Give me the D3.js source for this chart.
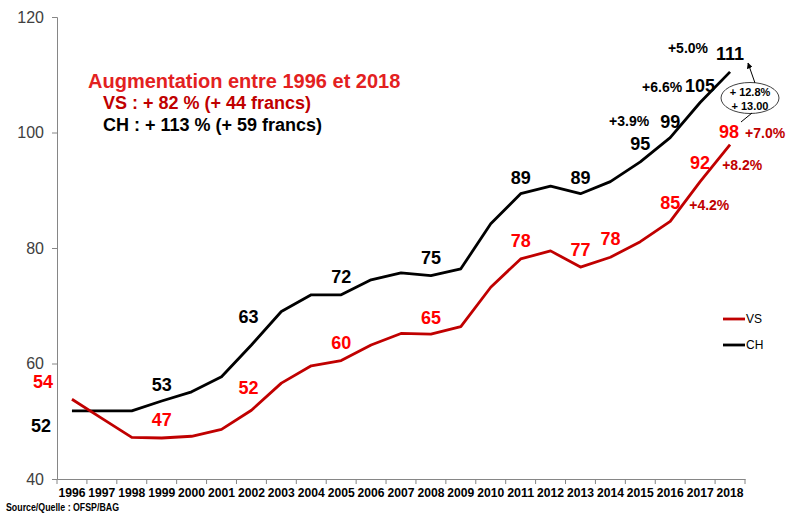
<!DOCTYPE html>
<html><head><meta charset="utf-8">
<script src="https://cdn.jsdelivr.net/npm/d3@7"></script>
<style>
html,body{margin:0;padding:0;background:#fff;}
svg{display:block;font-family:"Liberation Sans",Arial,sans-serif;}
</style></head>
<body><svg id="c" width="791" height="515"></svg>
<script>
const years = ["1996","1997","1998","1999","2000","2001","2002","2003","2004","2005","2006","2007","2008","2009","2010","2011","2012","2013","2014","2015","2016","2017","2018"];
const vsValues = [53.8,50.5,47.2,47.1,47.4,48.6,51.9,56.6,59.6,60.5,63.2,65.2,65.1,66.4,73.2,78.1,79.5,76.7,78.4,81.1,84.6,91.5,97.9];
const chValues = [51.8,51.8,51.8,53.5,55.1,57.7,63.2,69.0,71.9,71.9,74.5,75.7,75.2,76.4,84.2,89.4,90.7,89.4,91.5,94.9,99.1,105.2,110.5];
const yTicks = [40,60,80,100,120];
const vsLabelYears = ["1996","1999","2002","2005","2008","2011","2013","2014","2016","2017","2018"];
const vsLabelTexts = ["54","47","52","60","65","78","77","78","85","92","98"];
const chLabelYears = ["1996","1999","2002","2005","2008","2011","2013","2015","2016","2017","2018"];
const chLabelTexts = ["52","53","63","72","75","89","89","95","99","105","111"];
const vsPctYears = ["2016","2017","2018"];
const vsPctTexts = ["+4.2%","+8.2%","+7.0%"];
const chPctYears = ["2016","2017","2018"];
const chPctTexts = ["+3.9%","+6.6%","+5.0%"];
const ellipseTexts = ["+ 12.8%","+ 13.00"];
const titleLines = ["Augmentation entre 1996 et 2018","VS : + 82 % (+ 44 francs)","CH : + 113 % (+ 59 francs)"];
const seriesNames = ["VS","CH"];
const sourceText = "Source/Quelle : OFSP/BAG";

const svg = d3.select("#c");
const x = d3.scaleBand().domain(years).range([57,745]);
const y = d3.scaleLinear().domain([40,120]).range([479,17]);
const cx = yr => x(yr) + x.bandwidth()/2;
const RED_LINE = "#c00000", RED_TXT = "#ff0000", AXIS = "#868686";

// axes
const yAxis = d3.axisLeft(y).tickValues(yTicks).tickSize(5).tickPadding(8);
const gy = svg.append("g").attr("transform","translate(57,0)").call(yAxis);
gy.select(".domain").attr("stroke",AXIS);
gy.selectAll(".tick line").attr("stroke",AXIS);
gy.selectAll(".tick text").attr("font-size",16).attr("fill","#404040").attr("font-family","Liberation Sans, Arial, sans-serif");

const xAxis = d3.axisBottom(x).tickSize(0).tickPadding(9);
const gx = svg.append("g").attr("transform","translate(0,479)").call(xAxis);
gx.select(".domain").attr("stroke",AXIS);
gx.selectAll(".tick text").attr("font-size",13).attr("font-weight","bold").attr("fill","#000")
  .attr("font-family","Liberation Sans, Arial, sans-serif")
  .attr("textLength",27).attr("lengthAdjust","spacingAndGlyphs");
// category boundary ticks
const bounds = years.map(d=>x(d)).concat([x(years[years.length-1])+x.bandwidth()]);
gx.selectAll(".bt").data(bounds).enter().append("line")
  .attr("x1",d=>d).attr("x2",d=>d).attr("y1",0).attr("y2",5).attr("stroke",AXIS);

// lines
const line = d3.line().x((d,i)=>cx(years[i])).y(d=>y(d));
svg.append("path").datum(chValues).attr("d",line).attr("fill","none").attr("stroke","#000").attr("stroke-width",2.8).attr("stroke-linejoin","round");
svg.append("path").datum(vsValues).attr("d",line).attr("fill","none").attr("stroke",RED_LINE).attr("stroke-width",2.8).attr("stroke-linejoin","round");

// value labels (offsets are layout)
const vsOff = [[-29,-11],[0,-12],[-3,-16],[0,-12],[0,-10],[0,-12],[0,-11],[0,-12],[0,-12],[0,-13],[-1,-7]];
const chOff = [[-31,21],[0,-10],[-3,-22],[0,-12],[0,-12],[0,-10],[0,-10],[0,-12],[0,-10],[0,-10],[0,-12]];
vsLabelYears.forEach((yr,i)=>{
  const v = vsValues[years.indexOf(yr)];
  svg.append("text").attr("x",cx(yr)+vsOff[i][0]).attr("y",y(v)+vsOff[i][1]).attr("text-anchor","middle")
    .attr("font-size",18).attr("font-weight","bold").attr("fill",RED_TXT).text(vsLabelTexts[i]);
});
chLabelYears.forEach((yr,i)=>{
  const v = chValues[years.indexOf(yr)];
  svg.append("text").attr("x",cx(yr)+chOff[i][0]).attr("y",y(v)+chOff[i][1]).attr("text-anchor","middle")
    .attr("font-size",18).attr("font-weight","bold").attr("fill","#000").text(chLabelTexts[i]);
});
// percent labels
const vsPctOff = [[19,-11],[22,-12],[15,-7]];
vsPctYears.forEach((yr,i)=>{
  const v = vsValues[years.indexOf(yr)];
  svg.append("text").attr("x",cx(yr)+vsPctOff[i][0]).attr("y",y(v)+vsPctOff[i][1])
    .attr("font-size",14).attr("font-weight","bold").attr("fill",RED_LINE).text(vsPctTexts[i]);
});
const chPctOff = [[-21,-12],[-18,-10],[-22,-19]];
chPctYears.forEach((yr,i)=>{
  const v = chValues[years.indexOf(yr)];
  svg.append("text").attr("x",cx(yr)+chPctOff[i][0]).attr("y",y(v)+chPctOff[i][1]).attr("text-anchor","end")
    .attr("font-size",14).attr("font-weight","bold").attr("fill","#000").text(chPctTexts[i]);
});

// ellipse callout
const ex = 750, ey = 98;
svg.append("ellipse").attr("cx",ex).attr("cy",ey).attr("rx",29).attr("ry",15.5).attr("fill","#fff").attr("stroke","#404040").attr("stroke-width",1);
ellipseTexts.forEach((t,i)=>{
  svg.append("text").attr("x",ex).attr("y",ey-2+i*14).attr("text-anchor","middle")
    .attr("font-size",11).attr("font-weight","bold").attr("fill","#000").text(t);
});
svg.append("defs").append("marker").attr("id","ah").attr("viewBox","0 0 10 10").attr("refX",9).attr("refY",5)
  .attr("markerWidth",6).attr("markerHeight",6).attr("orient","auto")
  .append("path").attr("d","M0,0L10,5L0,10z").attr("fill","#000");
svg.append("line").attr("x1",755).attr("y1",83).attr("x2",748).attr("y2",63).attr("stroke","#000").attr("stroke-width",1).attr("marker-end","url(#ah)");
svg.append("line").attr("x1",752).attr("y1",113).attr("x2",741).attr("y2",122).attr("stroke","#000").attr("stroke-width",1);

// title block
svg.append("text").attr("x",88).attr("y",88).attr("font-size",20).attr("font-weight","bold").attr("fill","#e3211f").text(titleLines[0]);
svg.append("text").attr("x",103).attr("y",109).attr("font-size",18).attr("font-weight","bold").attr("fill",RED_LINE).text(titleLines[1]);
svg.append("text").attr("x",103).attr("y",131).attr("font-size",18).attr("font-weight","bold").attr("fill","#000").text(titleLines[2]);

// legend
const lg = svg.append("g");
[RED_LINE,"#000"].forEach((c,i)=>{
  lg.append("line").attr("x1",723).attr("x2",745).attr("y1",319+i*26).attr("y2",319+i*26).attr("stroke",c).attr("stroke-width",2.8);
  lg.append("text").attr("x",746).attr("y",323+i*26).attr("font-size",12).attr("fill","#000").text(seriesNames[i]);
});

// source
svg.append("text").attr("x",6).attr("y",511).attr("font-size",11).attr("font-weight","bold")
  .attr("textLength",113).attr("lengthAdjust","spacingAndGlyphs").attr("fill","#000").text(sourceText);
</script></body></html>
